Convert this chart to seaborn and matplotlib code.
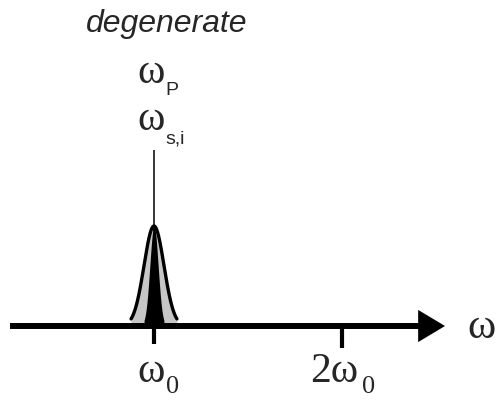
import numpy as np
import matplotlib
matplotlib.use("Agg")
import matplotlib.pyplot as plt
import seaborn as sns

# spectrum values (x in units of w0, y = height above the axis)
peak_center = 1.0
peak_height = 100
outer_sigma = 0.053   # broad signal/idler envelope
inner_sigma = 0.022   # narrow core
spike_top = 176       # pump line
tick_pos = [1.0, 2.0]
tick_len = [18, 22]
tick_main = ["\u03c9", "2\u03c9"]
tick_sub = ["0", "0"]

sns.set_theme(style="white")
plt.rcParams["font.family"] = ["Liberation Sans", "DejaVu Sans"]

fig = plt.figure(figsize=(4.99, 4.01), dpi=100)
ax = fig.add_axes([0, 0, 1, 1])
ax.set_xlim(1 - 154 / 188, 1 + 345 / 188)
ax.set_ylim(-75, 326)
ax.axis("off")


def X(px):
    return 1 + (px - 154) / 188


def Y(py):
    return 326 - py


# peak
xs = np.linspace(peak_center - 2.3 * outer_sigma, peak_center + 2.3 * outer_sigma, 300)
outer = peak_height * np.exp(-(xs - peak_center) ** 2 / (2 * outer_sigma ** 2))
xi = np.linspace(peak_center - 2.4 * inner_sigma, peak_center + 2.4 * inner_sigma, 200)
inner = peak_height * np.exp(-(xi - peak_center) ** 2 / (2 * inner_sigma ** 2))
ax.fill_between(xs, 0, outer, color="#c6c6c6", lw=0, zorder=2)
ax.fill_between(xi, 0, inner, color="black", lw=0, zorder=3)
sns.lineplot(x=xs, y=outer, color="black", lw=2.4, ax=ax, zorder=4)
ax.vlines(peak_center, peak_height - 5, spike_top, color="black", lw=1.1, zorder=4)

# axis with arrow
ax.annotate("", xy=(X(445), 0), xytext=(X(10), 0),
            arrowprops=dict(arrowstyle="-|>,head_length=0.5,head_width=0.3",
                            lw=4.3, color="black", shrinkA=0, shrinkB=0,
                            mutation_scale=26, capstyle="butt", joinstyle="miter"),
            zorder=5)

# ticks
for p, l in zip(tick_pos, tick_len):
    ax.vlines(p, -l, 0, color="black", lw=3, zorder=5)

# tick labels
serif = "Liberation Serif"
ax.text(X(151), Y(382), tick_main[0], family=serif, fontsize=30, ha="center", va="baseline")
ax.text(X(166), Y(393), tick_sub[0], family=serif, fontsize=19, ha="left", va="baseline")
ax.text(X(334), Y(382), tick_main[1], family=serif, fontsize=30, ha="center", va="baseline")
ax.text(X(362), Y(393), tick_sub[1], family=serif, fontsize=19, ha="left", va="baseline")

ax.text(X(481), Y(338), "\u03c9", family=serif, fontsize=31, ha="center", va="baseline")

# peak labels
ax.text(X(151), Y(83), "\u03c9", family=serif, fontsize=30, ha="center", va="baseline")
ax.text(X(165), Y(95), "P", fontsize=14, ha="left", va="baseline")
ax.text(X(151), Y(130), "\u03c9", family=serif, fontsize=30, ha="center", va="baseline")
ax.text(X(165), Y(143), "s,i", fontsize=14, ha="left", va="baseline")

ax.text(X(167), Y(32), "degenerate", fontsize=23, style="italic", ha="center", va="baseline")

fig.savefig("out.png", dpi=100)
